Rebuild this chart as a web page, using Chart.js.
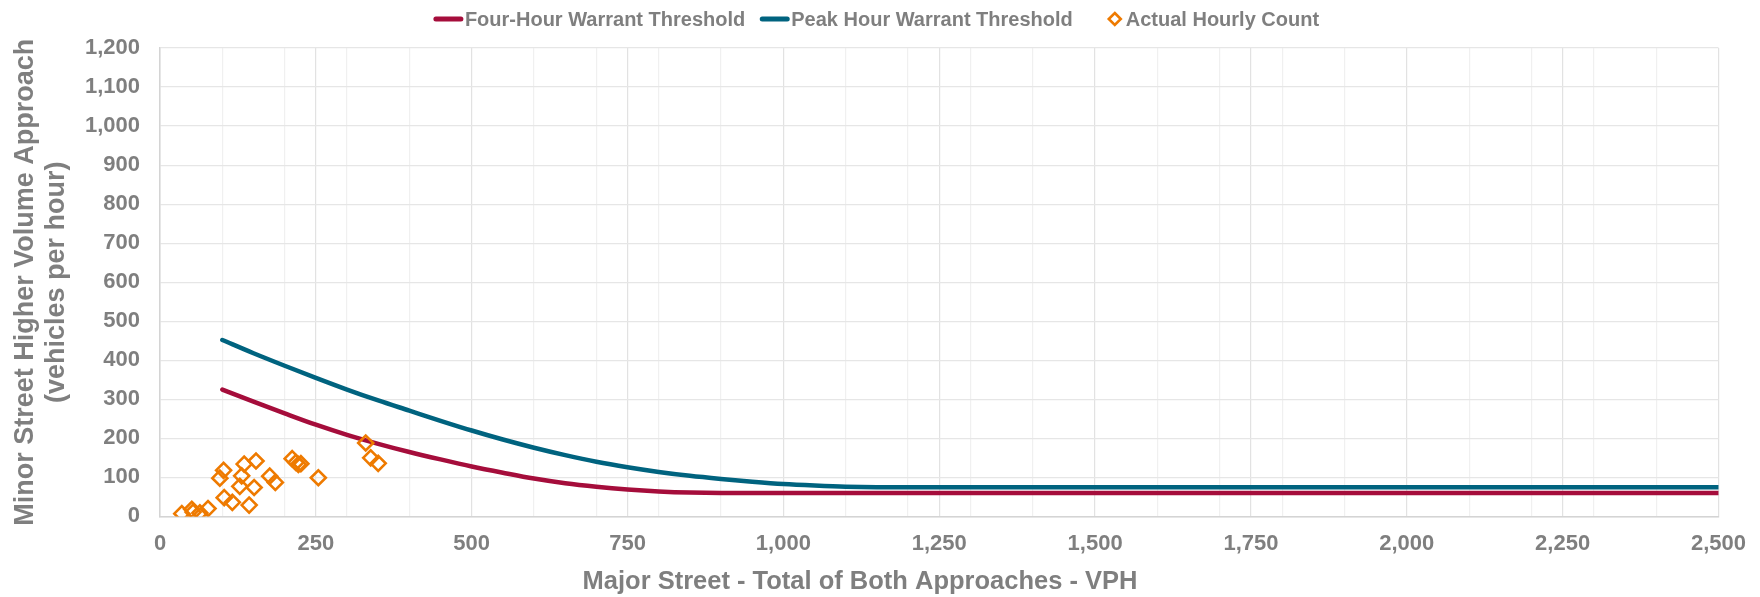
<!DOCTYPE html>
<html>
<head>
<meta charset="utf-8">
<script src="https://cdn.jsdelivr.net/npm/chart.js@4.4.1/dist/chart.umd.min.js"></script>
<style>
  html, body { margin: 0; padding: 0; background: #ffffff; }
  #wrap { width: 1760px; height: 597px; }
</style>
</head>
<body>
<div id="wrap"><canvas id="warrantChart" width="1760" height="597"></canvas></div>
<script>
// Four-hour warrant threshold curve (major street VPH -> minor street VPH)
const fourHourMajor = [100, 150, 200, 250, 300, 350, 400, 450, 500, 550, 600, 650, 700, 750, 800, 850, 900, 2500];
const fourHourMinor = [325, 294, 264, 235, 209, 186, 165, 146, 128, 112, 97, 85, 76, 69, 64, 61, 60, 60];

// Peak hour warrant threshold curve
const peakHourMajor = [100, 150, 200, 250, 300, 350, 400, 450, 500, 550, 600, 650, 700, 750, 800, 850, 900, 950, 1000, 1050, 1100, 1150, 2500];
const peakHourMinor = [452, 418, 386, 355, 325, 297, 271, 245, 220, 197, 176, 157, 140, 126, 114, 104, 96, 89, 83, 79, 76, 75, 75];

// Observed hourly counts
const countMajor = [35, 51, 53, 64, 77, 96, 102, 103, 116, 128, 131, 135, 143, 151, 154, 176, 185, 212, 218, 222, 226, 254, 330, 338, 350];
const countMinor = [7, 18, 11, 9, 20, 98, 118, 48, 36, 77, 104, 134, 29, 74, 142, 103, 87, 148, 138, 133, 135, 99, 188, 150, 136];

// Axis ticks
const xLabelTicks = [0, 250, 500, 750, 1000, 1250, 1500, 1750, 2000, 2250, 2500];
const xGridTicks = [0, 100, 200, 300, 400, 500, 600, 700, 800, 900, 1000, 1100, 1200, 1300, 1400, 1500,
                    1600, 1700, 1800, 1900, 2000, 2100, 2200, 2300, 2400, 2500];
const yTicks = [0, 100, 200, 300, 400, 500, 600, 700, 800, 900, 1000, 1100, 1200];

const seriesLabels = ['Four-Hour Warrant Threshold', 'Peak Hour Warrant Threshold', 'Actual Hourly Count'];

const FONT = '"Liberation Sans", Arial, Helvetica, sans-serif';
const GREY = '#7f7f7f';
const RED = '#a50d3b';
const BLUE = '#00637f';
const ORANGE = '#ee7a00';

const toPoints = (xs, ys) => xs.map((x, i) => ({ x: x, y: ys[i] }));
const fmt = v => v.toLocaleString('en-US');

// Legend drawn across the top, centred on the canvas
const seriesKey = {
  id: 'seriesKey',
  afterDraw(chart) {
    const ctx = chart.ctx;
    ctx.save();
    ctx.font = 'bold 20px ' + FONT;
    ctx.textBaseline = 'middle';
    const cy = 19;
    const items = chart.data.datasets.map(ds => ({
      text: ds.label, kind: ds.showLine ? 'line' : 'diamond',
      color: ds.showLine ? ds.borderColor : ds.pointBorderColor,
      w: ctx.measureText(ds.label).width
    }));
    const slot = it => it.kind === 'line' ? 32 : 53;
    const gapAfter = [14, 0, 0];
    let total = 0;
    items.forEach((it, i) => { total += slot(it) + it.w + (i < items.length - 1 ? gapAfter[i] : 0); });
    let x = 876 - total / 2;
    items.forEach((it, i) => {
      if (it.kind === 'line') {
        ctx.strokeStyle = it.color;
        ctx.lineWidth = 5;
        ctx.lineCap = 'round';
        ctx.beginPath();
        ctx.moveTo(x + 3, cy);
        ctx.lineTo(x + 28, cy);
        ctx.stroke();
      } else {
        const cx = x + 42, r = 6;
        ctx.strokeStyle = it.color;
        ctx.lineWidth = 2.6;
        ctx.lineJoin = 'miter';
        ctx.beginPath();
        ctx.moveTo(cx, cy - r);
        ctx.lineTo(cx + r, cy);
        ctx.lineTo(cx, cy + r);
        ctx.lineTo(cx - r, cy);
        ctx.closePath();
        ctx.stroke();
      }
      x += slot(it);
      ctx.fillStyle = GREY;
      ctx.textAlign = 'left';
      ctx.fillText(it.text, x, cy + 1);
      x += it.w + (i < items.length - 1 ? gapAfter[i] : 0);
    });
    ctx.restore();
  }
};

new Chart(document.getElementById('warrantChart'), {
  type: 'scatter',
  data: {
    datasets: [
      {
        label: seriesLabels[0],
        data: toPoints(fourHourMajor, fourHourMinor),
        showLine: true,
        borderColor: RED,
        borderWidth: 4.5,
        borderCapStyle: 'round',
        cubicInterpolationMode: 'monotone',
        pointRadius: 0,
        pointHoverRadius: 0,
        order: 2
      },
      {
        label: seriesLabels[1],
        data: toPoints(peakHourMajor, peakHourMinor),
        showLine: true,
        borderColor: BLUE,
        borderWidth: 4.5,
        borderCapStyle: 'round',
        cubicInterpolationMode: 'monotone',
        pointRadius: 0,
        pointHoverRadius: 0,
        order: 1
      },
      {
        label: seriesLabels[2],
        data: toPoints(countMajor, countMinor),
        showLine: false,
        pointStyle: 'rectRot',
        pointRadius: 7.5,
        pointBorderWidth: 2.6,
        pointBorderColor: ORANGE,
        pointBackgroundColor: 'rgba(0,0,0,0)',
        borderColor: ORANGE,
        backgroundColor: 'rgba(0,0,0,0)',
        order: 0
      }
    ]
  },
  options: {
    responsive: false,
    animation: false,
    devicePixelRatio: 1,
    layout: { padding: { top: 48, right: 40, bottom: 0, left: 0 } },
    plugins: {
      legend: { display: false },
      tooltip: { enabled: false },
      title: {
        display: true,
        position: 'bottom',
        text: 'Major Street - Total of Both Approaches - VPH',
        color: GREY,
        font: { family: FONT, size: 25.5, weight: 'bold', lineHeight: 1.2 },
        padding: { top: 0, bottom: 0 }
      }
    },
    scales: {
      x: {
        type: 'linear',
        min: 0,
        max: 2500,
        afterFit(scale) { scale.height = 50; },
        afterBuildTicks(scale) {
          const vals = Array.from(new Set(xGridTicks.concat(xLabelTicks))).sort((a, b) => a - b);
          scale.ticks = vals.map(v => ({ value: v }));
        },
        ticks: {
          autoSkip: false,
          maxRotation: 0,
          padding: 14,
          color: GREY,
          font: { family: FONT, size: 22, weight: 'bold' },
          callback: v => xLabelTicks.includes(v) ? fmt(v) : ''
        },
        grid: {
          drawTicks: false,
          lineWidth: 1.2,
          color: ctx => (ctx.tick && xLabelTicks.includes(ctx.tick.value)) ? '#e2e2e2' : '#f0f0f0'
        },
        border: { display: true, color: '#d4d4d4', width: 1.5 }
      },
      y: {
        type: 'linear',
        min: 0,
        max: 1200,
        afterFit(scale) { scale.width = 160; },
        afterBuildTicks(scale) { scale.ticks = yTicks.map(v => ({ value: v })); },
        ticks: {
          autoSkip: false,
          padding: 20,
          color: GREY,
          font: { family: FONT, size: 22, weight: 'bold' },
          callback: v => fmt(v)
        },
        grid: { drawTicks: false, lineWidth: 1.2, color: '#e6e6e6' },
        border: { display: true, color: '#d4d4d4', width: 1.5 },
        title: {
          display: true,
          text: ['Minor Street Higher Volume Approach', '(vehicles per hour)'],
          color: GREY,
          font: { family: FONT, size: 27, weight: 'bold', lineHeight: 1.15 },
          padding: { top: 10, bottom: 0 }
        }
      }
    }
  },
  plugins: [seriesKey]
});
</script>
</body>
</html>
